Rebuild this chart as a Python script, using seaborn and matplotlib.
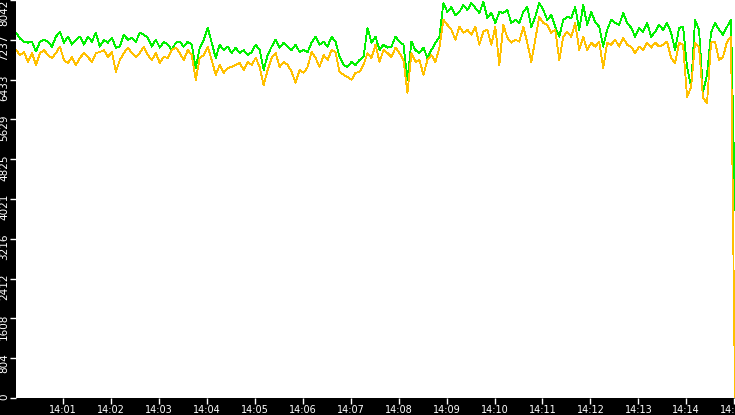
import matplotlib
matplotlib.use("Agg")
import matplotlib.pyplot as plt
import matplotlib.dates as mdates
import matplotlib.transforms as mtrans
import seaborn as sns
import pandas as pd

# samples every 5 seconds
start_time = "2024-01-01 14:00:01"

green_values = [
    7380, 7260, 7200, 7180, 7200, 7000, 7200, 7240, 7200, 7100, 7300, 7400, 7180, 7300, 7140, 7240,
    7300, 7140, 7300, 7200, 7380, 7100, 7240, 7180, 7280, 7080, 7100, 7340, 7240, 7280, 7200, 7380,
    7340, 7280, 7100, 7240, 7080, 7200, 7140, 7030, 7180, 7200, 7100, 7200, 7140, 6670, 7080, 7240,
    7480, 7180, 6870, 7140, 7030, 7100, 6970, 7080, 6970, 7030, 6930, 6990, 7140, 7030, 6630,
    6930, 7100, 7240, 7080, 7180, 7100, 7030, 7140, 6990, 7030, 6990, 7180, 7300, 7140, 7200, 7100,
    7300, 7200, 6890, 6730, 6690, 6790, 6730, 6830, 6890, 7480, 7180, 7300, 7030, 7140, 7080,
    7100, 7300, 7200, 7140, 6430, 7200, 7030, 6970, 7080, 6870, 7030, 7180, 7300, 7980, 7800, 7900,
    7740, 7800, 7940, 7840, 7980, 7880, 7780, 8000, 7680, 7780, 7580, 7800, 7780, 7840, 7580,
    7640, 7580, 7800, 7900, 7500, 7700, 7980, 7840, 7640, 7740, 7500, 7300, 7640, 7700, 7680, 7900,
    7440, 7940, 7540, 7800, 7600, 7500, 7100, 7440, 7640, 7580, 7540, 7780, 7580, 7480, 7300,
    7480, 7400, 7580, 7300, 7400, 7540, 7440, 7580, 7380, 7030, 7480, 7500, 6690, 6280, 7640, 7440,
    6180, 6530, 7380, 7580, 7440, 7340, 7500, 7640, 3800,
]

orange_values = [
    7030, 6930, 6990, 6790, 6970, 6730, 6970, 7030, 6930, 6870, 6970, 7100, 6830, 6770, 6890, 6730,
    6870, 6970, 6890, 6790, 6970, 6990, 7030, 6890, 6990, 6590, 6830, 6970, 7080, 6970, 6890, 6970,
    7100, 6930, 6830, 6970, 6770, 6890, 6870, 7030, 7080, 6970, 6830, 7030, 6930, 6430, 6870, 6930,
    7100, 6830, 6530, 6730, 6570, 6670, 6690, 6730, 6770, 6630, 6790, 6730, 6870, 6690, 6320,
    6630, 6870, 6970, 6690, 6790, 6730, 6590, 6370, 6630, 6570, 6690, 6990, 6870, 6690, 6930, 6830,
    7030, 6990, 6590, 6530, 6490, 6430, 6570, 6590, 6730, 6970, 6870, 7140, 6790, 7030, 6970,
    6890, 7080, 6970, 6830, 6160, 6970, 6790, 6830, 6530, 6830, 6930, 6790, 7080, 7640, 7540, 7440,
    7240, 7500, 7380, 7440, 7340, 7500, 7140, 7400, 7440, 7140, 7500, 6730, 7540, 7280, 7180,
    7240, 7200, 7500, 7180, 6790, 7240, 7700, 7580, 7540, 7380, 7440, 6830, 7300, 7400, 7300, 7580,
    7030, 7300, 7030, 7180, 7100, 7200, 6670, 7180, 7140, 7240, 7100, 7280, 7140, 7100, 6970,
    7100, 7030, 7180, 7080, 7180, 7100, 7140, 7200, 6870, 6770, 7180, 7140, 6080, 6280, 7180, 7080,
    6060, 5960, 7180, 7200, 6830, 6890, 7200, 7300, 0,
]

y_ticks = [0, 804, 1608, 2412, 3216, 4021, 4825, 5629, 6433, 7237, 8042]

times = pd.date_range(start_time, periods=len(green_values), freq="5s")
df = pd.DataFrame({"time": times, "green": green_values, "orange": orange_values})

fig = plt.figure(figsize=(7.35, 4.15), dpi=100, facecolor="black")
ax = fig.add_axes([16 / 735, 17 / 415, 719 / 735, 398 / 415])
ax.set_facecolor("white")

sns.lineplot(data=df, x="time", y="green", ax=ax, color="#00f000", linewidth=0.6,
             antialiased=False, legend=False)
sns.lineplot(data=df, x="time", y="orange", ax=ax, color="#ffc000", linewidth=0.6,
             antialiased=False, legend=False)

ax.set_xlim(times[0], times[-1])
ax.set_ylim(0, 8042)
ax.set_yticks(y_ticks)
ax.set_yticklabels([str(v) for v in y_ticks])
ax.xaxis.set_major_locator(mdates.MinuteLocator())
ax.xaxis.set_major_formatter(mdates.DateFormatter("%H:%M"))

for s in ax.spines.values():
    s.set_visible(False)

ax.tick_params(colors="white", labelsize=7, length=4, width=1, pad=1)
ax.tick_params(axis="y", labelrotation=90, labelsize=7.5)

# y labels sit mostly below their tick, the top one is kept inside the figure
shift_up = mtrans.ScaledTranslation(0, 5 / 100, fig.dpi_scale_trans)
ylabels = ax.get_yticklabels()
for lbl in ylabels:
    lbl.set_va("top")
for lbl in ylabels[:-1]:
    lbl.set_transform(lbl.get_transform() + shift_up)

ax.set_xlabel("")
ax.set_ylabel("")

fig.savefig("out.png", dpi=100, facecolor="black")
